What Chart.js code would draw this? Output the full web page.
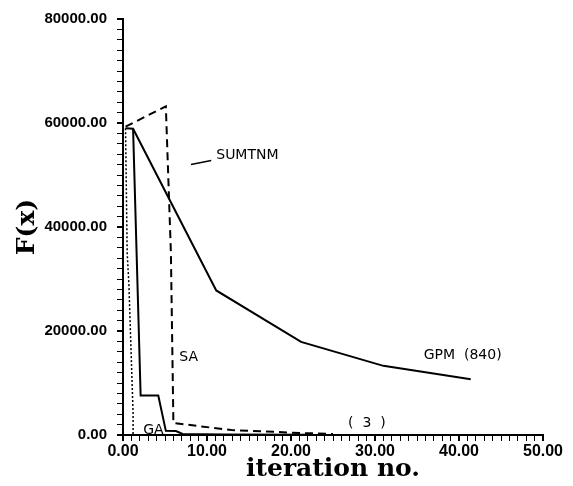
<!DOCTYPE html>
<html>
<head>
<meta charset="utf-8">
<script src="https://cdn.jsdelivr.net/npm/chart.js@4/dist/chart.umd.min.js"></script>
<style>
  body { margin: 0; background: #fff; }
  canvas { display: block; }
</style>
</head>
<body>
<canvas id="grafico" width="573" height="486"></canvas>
<script>
// valores (x = iteração, y = F(x))
const gpmX = [0.3, 1.2, 11.1, 21.2, 31.0, 41.4];
const gpmY = [59000, 58900, 27800, 17900, 13300, 10700];

const gaX = [1.2, 2.1, 4.2, 5.1, 6.3, 7.1, 12.0, 22.0];
const gaY = [58900, 7600, 7600, 800, 760, 200, 100, 50];

const saX = [0.3, 5.1, 5.7, 6.0, 12.9, 21.2, 25.0];
const saY = [59300, 63200, 35200, 2300, 950, 380, 200];

const sumX = [0.3, 0.5, 0.7, 1.2, 1.2, 5.0];
const sumY = [59000, 35000, 29000, 4200, 0, 0];

// pequeno traço que liga o rótulo SUMTNM
const leaderX = [8.1, 10.5];
const leaderY = [52000, 52800];

const xTicks = [0, 10, 20, 30, 40, 50];
const yTicks = [0, 20000, 40000, 60000, 80000];

// rótulos das curvas: [texto, x, y]
const curveLabels = [
    ['SUMTNM', 11.1, 53700],
    ['SA', 6.7, 15000],
    ['GA', 2.4, 950],
    ['GPM  (840)', 35.8, 15400],
    ['(  3  )', 26.8, 2300]
];

function pontos(xs, ys) {
    return xs.map((x, i) => ({ x: x, y: ys[i] }));
}

const rotulos = {
    id: 'rotulos',
    afterDatasetsDraw(chart) {
        const ctx = chart.ctx;
        const sx = chart.scales.x;
        const sy = chart.scales.y;
        ctx.save();
        ctx.fillStyle = '#000';
        ctx.font = '14px "DejaVu Sans"';
        ctx.textAlign = 'left';
        ctx.textBaseline = 'middle';
        curveLabels.forEach(([t, x, y]) => {
            ctx.fillText(t, sx.getPixelForValue(x), sy.getPixelForValue(y));
        });
        ctx.restore();
    }
};

const ctx = document.getElementById('grafico').getContext('2d');
new Chart(ctx, {
    type: 'line',
    data: {
        datasets: [
            {
                label: 'GPM',
                data: pontos(gpmX, gpmY),
                borderColor: '#000',
                borderWidth: 2
            },
            {
                label: 'GA',
                data: pontos(gaX, gaY),
                borderColor: '#000',
                borderWidth: 2
            },
            {
                label: 'SA',
                data: pontos(saX, saY),
                borderColor: '#000',
                borderWidth: 2,
                borderDash: [8, 5]
            },
            {
                label: 'SUMTNM',
                data: pontos(sumX, sumY),
                borderColor: '#000',
                borderWidth: 1.5,
                borderDash: [2, 2]
            },
            {
                label: 'leader',
                data: pontos(leaderX, leaderY),
                borderColor: '#000',
                borderWidth: 1.5
            }
        ]
    },
    options: {
        responsive: false,
        animation: false,
        events: [],
        elements: {
            point: { radius: 0 },
            line: { tension: 0 }
        },
        layout: {
            padding: { top: 12, right: 30, left: 0, bottom: 0 }
        },
        plugins: {
            legend: { display: false },
            tooltip: { enabled: false }
        },
        scales: {
            x: {
                type: 'linear',
                min: 0,
                max: 50,
                afterFit: (s) => { s.height = 51; },
                border: { display: true, color: '#000', width: 2 },
                grid: {
                    drawOnChartArea: false,
                    drawTicks: true,
                    tickLength: 6,
                    color: '#000',
                    lineWidth: (c) => (xTicks.includes(c.tick && c.tick.value) ? 2 : 1)
                },
                ticks: {
                    stepSize: 1,
                    autoSkip: false,
                    maxRotation: 0,
                    padding: 1,
                    color: '#000',
                    font: { family: 'Liberation Sans', size: 16, weight: 'bold' },
                    callback: (v) => (xTicks.includes(v) ? v.toFixed(2) : '')
                },
                title: {
                    display: true,
                    text: 'iteration no.',
                    color: '#000',
                    font: { family: 'DejaVu Serif', size: 25, weight: 'bold', lineHeight: 1 },
                    padding: { top: 0, bottom: 4 }
                }
            },
            y: {
                type: 'linear',
                min: 0,
                max: 80000,
                afterFit: (s) => { s.width = 123; },
                border: { display: true, color: '#000', width: 2 },
                grid: {
                    drawOnChartArea: false,
                    drawTicks: true,
                    tickLength: 6,
                    color: '#000',
                    lineWidth: (c) => (yTicks.includes(c.tick && c.tick.value) ? 2 : 1)
                },
                ticks: {
                    stepSize: 2000,
                    autoSkip: false,
                    padding: 10,
                    color: '#000',
                    font: { family: 'Liberation Sans', size: 15, weight: 'bold' },
                    callback: (v) => (yTicks.includes(v) ? v.toFixed(2) : '')
                },
                title: {
                    display: true,
                    text: 'F(x)',
                    color: '#000',
                    font: { family: 'DejaVu Serif', size: 25, weight: 'bold', lineHeight: 1 },
                    padding: { top: 15, bottom: 0 }
                }
            }
        }
    },
    plugins: [rotulos]
});
</script>
</body>
</html>
